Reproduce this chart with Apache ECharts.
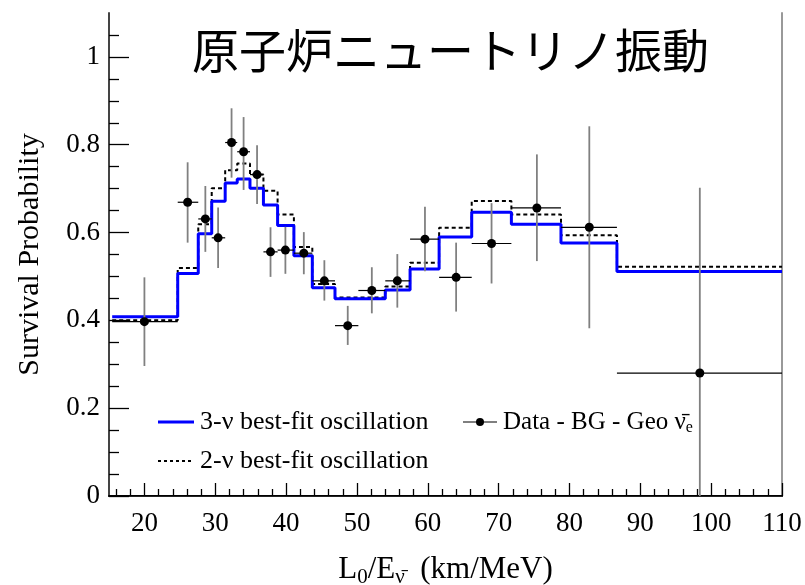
<!DOCTYPE html>
<html><head><meta charset="utf-8">
<script src="https://cdn.jsdelivr.net/npm/echarts@6/dist/echarts.min.js"></script>
<style>html,body{margin:0;padding:0;background:#fff}#c{width:805px;height:585px}</style>
</head><body><div id="c"></div>
<script>
// Histogram bin edges (L0/E, km/MeV)
const binEdges = [15.45, 24.7, 27.6, 29.5, 31.4, 33.1, 34.9, 36.8, 38.8, 41.1, 43.7, 46.9, 50.2, 54.0, 57.5, 61.6, 66.2, 71.8, 78.8, 86.7, 110];
// 3-nu best-fit oscillation (per bin)
const prob3nu = [0.408, 0.507, 0.597, 0.671, 0.713, 0.722, 0.701, 0.663, 0.616, 0.547, 0.474, 0.449, 0.449, 0.469, 0.517, 0.590, 0.646, 0.619, 0.576, 0.511];
// 2-nu best-fit oscillation (per bin)
const prob2nu = [0.400, 0.519, 0.619, 0.701, 0.742, 0.757, 0.732, 0.695, 0.641, 0.567, 0.483, 0.452, 0.452, 0.477, 0.531, 0.611, 0.672, 0.641, 0.594, 0.522];
// Data - BG - Geo
const dataX     = [20.0, 26.1, 28.6, 30.4, 32.3, 34.0, 35.9, 37.8, 39.9, 42.5, 45.4, 48.7, 52.1, 55.7, 59.6, 64.0, 69.0, 75.4, 82.8, 98.4];
const dataY     = [0.397, 0.669, 0.631, 0.588, 0.805, 0.784, 0.732, 0.556, 0.560, 0.553, 0.490, 0.388, 0.468, 0.490, 0.585, 0.498, 0.575, 0.656, 0.612, 0.280];
const dataYHigh = [0.498, 0.760, 0.706, 0.657, 0.883, 0.863, 0.799, 0.612, 0.613, 0.601, 0.537, 0.433, 0.521, 0.551, 0.659, 0.577, 0.667, 0.778, 0.842, 0.702];
const dataYLow  = [0.296, 0.577, 0.556, 0.519, 0.725, 0.697, 0.665, 0.499, 0.506, 0.505, 0.445, 0.344, 0.416, 0.429, 0.512, 0.420, 0.484, 0.535, 0.382, 0.000];
// Tick labels
const xTickValues = [20, 30, 40, 50, 60, 70, 80, 90, 100, 110];
const yTickValues = [0, 0.2, 0.4, 0.6, 0.8, 1];
const xMinorTicks = [16,18,22,24,26,28,32,34,36,38,42,44,46,48,52,54,56,58,62,64,66,68,72,74,76,78,82,84,86,88,92,94,96,98,102,104,106,108];
const yMinorTicks = [0.05,0.1,0.15,0.25,0.3,0.35,0.45,0.5,0.55,0.65,0.7,0.75,0.85,0.9,0.95,1.05];

const SERIF = 'Liberation Serif';
const stepData = vals => binEdges.map((e, i) => [e, vals[Math.min(i, vals.length - 1)]]);
const errData = dataX.map((x, i) => [x, dataY[i], dataYLow[i], dataYHigh[i], binEdges[i], binEdges[i + 1]]);

const gridPos = {left: 109, top: 13, width: 673, height: 483, containLabel: false, outerBoundsMode: 'none'};
const chart = echarts.init(document.getElementById('c'), null, {renderer: 'canvas'});
chart.setOption({
  animation: false,
  backgroundColor: '#fff',
  title: {
    text: '原子炉ニュートリノ振動', left: 192, top: 27, padding: 0,
    textStyle: {fontFamily: 'Noto Sans CJK JP', fontSize: 47, fontWeight: 'normal', color: '#000'}
  },
  grid: [Object.assign({}, gridPos), Object.assign({}, gridPos)],
  xAxis: [
    {
      type: 'value', gridIndex: 0, position: 'bottom', min: 15, max: 110,
      axisLine: {show: true, lineStyle: {color: '#000', width: 2}},
      axisTick: {show: true, inside: true, length: 13, customValues: xTickValues, lineStyle: {color: '#000', width: 1.3}},
      axisLabel: {show: true, customValues: xTickValues, margin: 14, color: '#000', fontFamily: SERIF, fontSize: 27},
      splitLine: {show: false},
      name: '{t|L}{s|0}{t|/E}{s|ν̄}{t|  (km/MeV)}', nameLocation: 'middle', nameGap: 56,
      nameTextStyle: {
        color: '#000', fontFamily: SERIF, fontSize: 31,
        rich: {
          t: {fontFamily: SERIF, fontSize: 31, color: '#000', lineHeight: 36, verticalAlign: 'middle'},
          s: {fontFamily: SERIF, fontSize: 21, color: '#000', lineHeight: 21, padding: [15, 0, 0, 0], verticalAlign: 'middle'}
        }
      }
    },
    {
      type: 'value', gridIndex: 1, position: 'bottom', min: 15, max: 110,
      axisLine: {show: false},
      axisTick: {show: true, inside: true, length: 7, customValues: xMinorTicks, lineStyle: {color: '#000', width: 1.3}},
      axisLabel: {show: false}, splitLine: {show: false}
    },
    {
      type: 'value', gridIndex: 1, position: 'top', min: 15, max: 110,
      axisLine: {show: true, lineStyle: {color: '#222', width: 1.2}},
      axisTick: {show: false}, axisLabel: {show: false}, splitLine: {show: false}
    }
  ],
  yAxis: [
    {
      type: 'value', gridIndex: 0, position: 'left', min: 0, max: 1.1,
      axisLine: {show: true, lineStyle: {color: '#444', width: 2}},
      axisTick: {show: true, inside: true, length: 20, customValues: yTickValues, lineStyle: {color: '#000', width: 1.3}},
      axisLabel: {show: true, customValues: yTickValues, margin: 9, color: '#000', fontFamily: SERIF, fontSize: 27},
      splitLine: {show: false},
      name: 'Survival Probability', nameLocation: 'middle', nameGap: 64,
      nameTextStyle: {color: '#000', fontFamily: SERIF, fontSize: 30}
    },
    {
      type: 'value', gridIndex: 1, position: 'left', min: 0, max: 1.1,
      axisLine: {show: false},
      axisTick: {show: true, inside: true, length: 10, customValues: yMinorTicks, lineStyle: {color: '#000', width: 1.3}},
      axisLabel: {show: false}, splitLine: {show: false}
    },
    {
      type: 'value', gridIndex: 1, position: 'right', min: 0, max: 1.1,
      axisLine: {show: true, lineStyle: {color: '#999', width: 2}},
      axisTick: {show: false}, axisLabel: {show: false}, splitLine: {show: false}
    }
  ],
  series: [
    {
      name: '2-ν best-fit oscillation', type: 'line', xAxisIndex: 0, yAxisIndex: 0,
      data: stepData(prob2nu), step: 'end', showSymbol: false, symbol: 'none', z: 3,
      lineStyle: {color: '#000', width: 2, type: [4, 3]}
    },
    {
      name: '3-ν best-fit oscillation', type: 'line', xAxisIndex: 0, yAxisIndex: 0,
      data: stepData(prob3nu), step: 'end', showSymbol: false, symbol: 'none', z: 4,
      lineStyle: {color: '#0000ff', width: 3}
    },
    {
      name: 'Data - BG - Geo', type: 'custom', xAxisIndex: 0, yAxisIndex: 0, z: 5,
      data: errData, encode: {x: [0, 4, 5], y: [1, 2, 3]},
      renderItem: function (params, api) {
        const c = api.coord([api.value(0), api.value(1)]);
        const lo = api.coord([api.value(0), api.value(2)]);
        const hi = api.coord([api.value(0), api.value(3)]);
        const l = api.coord([api.value(4), api.value(1)]);
        const r = api.coord([api.value(5), api.value(1)]);
        return {type: 'group', children: [
          {type: 'line', shape: {x1: lo[0], y1: lo[1], x2: hi[0], y2: hi[1]}, style: {stroke: '#808080', lineWidth: 1.8}},
          {type: 'line', shape: {x1: l[0], y1: l[1], x2: r[0], y2: r[1]}, style: {stroke: '#000', lineWidth: 1.2}},
          {type: 'circle', shape: {cx: c[0], cy: c[1], r: 4.5}, style: {fill: '#000'}}
        ]};
      }
    }
  ],
  graphic: [
    {type: 'line', shape: {x1: 158, y1: 422, x2: 194, y2: 422}, style: {stroke: '#0000ff', lineWidth: 3}},
    {type: 'text', x: 200, y: 422, style: {text: '3-ν best-fit oscillation', font: '26px "Liberation Serif"', fill: '#000', verticalAlign: 'middle'}},
    {type: 'line', shape: {x1: 463, y1: 422, x2: 497, y2: 422}, style: {stroke: '#000', lineWidth: 1.2}},
    {type: 'circle', shape: {cx: 480, cy: 422, r: 4}, style: {fill: '#000'}},
    {type: 'text', x: 503, y: 422, style: {
      text: '{t|Data - BG - Geo ν̄}{s|e}', fill: '#000', verticalAlign: 'middle',
      rich: {
        t: {fontFamily: SERIF, fontSize: 25, fill: '#000', lineHeight: 30, verticalAlign: 'middle'},
        s: {fontFamily: SERIF, fontSize: 16, fill: '#000', lineHeight: 16, padding: [12, 0, 0, 0], verticalAlign: 'middle'}
      }
    }},
    {type: 'line', shape: {x1: 158, y1: 461, x2: 192, y2: 461}, style: {stroke: '#000', lineWidth: 2, lineDash: [3, 3]}},
    {type: 'text', x: 200, y: 461, style: {text: '2-ν best-fit oscillation', font: '26px "Liberation Serif"', fill: '#000', verticalAlign: 'middle'}}
  ]
});
</script>
</body></html>
